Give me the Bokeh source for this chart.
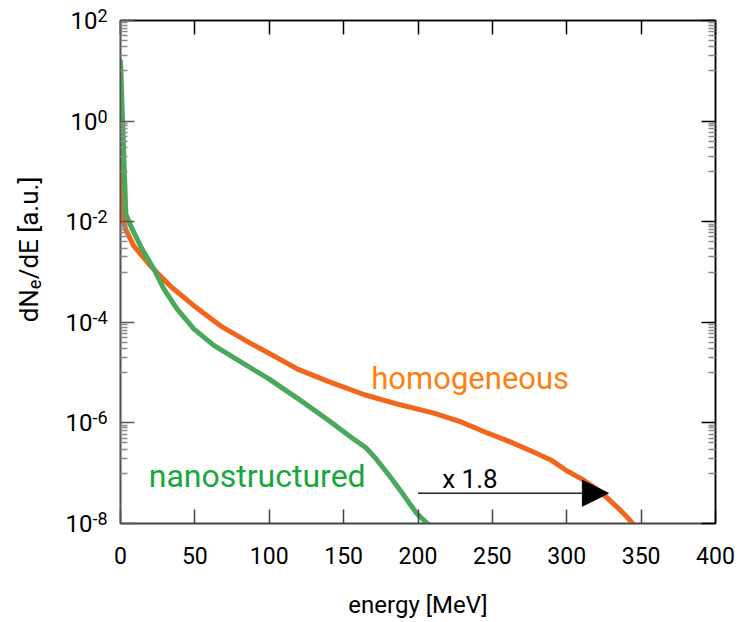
import math

from bokeh.core.properties import value
from bokeh.embed import file_html
from bokeh.models import (Arrow, FixedTicker, Label, LinearAxis, LogAxis,
                          NormalHead, Range1d)
from bokeh.plotting import figure
from bokeh.resources import INLINE

# electron spectra, dN_e/dE in arbitrary units versus energy in MeV
energy_homogeneous = [0, 1.8, 3.4, 8.9, 20.2, 33.6, 49.3, 67.2, 86.3, 105, 119,
                      140, 164, 188, 210, 228, 245, 262, 278, 290, 300, 312,
                      323, 334, 340, 345]
dnde_homogeneous = [15.1, 1.12e-2, 7.1e-3, 3.3e-3, 1.32e-3, 5.2e-4, 2.14e-4,
                    8.5e-5, 3.98e-5, 2.0e-5, 1.17e-5, 6.6e-6, 3.63e-6, 2.29e-6,
                    1.58e-6, 1.07e-6, 6.6e-7, 4.2e-7, 2.6e-7, 1.78e-7, 1.12e-7,
                    7.1e-8, 4.2e-8, 2.1e-8, 1.4e-8, 9.5e-9]

energy_nano = [0, 3.6, 7.9, 14.6, 22.4, 29.1, 38.1, 49.3, 62.7, 77.3, 100, 121,
               140, 155, 165, 172, 180, 188, 199, 207]
dnde_nano = [15.1, 1.41e-2, 7.1e-3, 2.82e-3, 1.15e-3, 4.6e-4, 1.82e-4, 7.4e-5,
             3.47e-5, 1.9e-5, 7.4e-6, 2.8e-6, 1.12e-6, 5.2e-7, 3.2e-7, 1.9e-7,
             9.5e-8, 4.6e-8, 1.6e-8, 9.5e-9]

# cut-off energies compared by the arrow
cutoff_nano = 200
cutoff_homogeneous = 328
arrow_level = 4.0e-8
gain_label = "x 1.8"

x_ticks = [0, 50, 100, 150, 200, 250, 300, 350, 400]
y_decades = [2, 0, -2, -4, -6, -8]

X_LO, X_HI = 0, 400
Y_LO, Y_HI = 1e-8, 1e2

ORANGE = "#f2661c"
ORANGE_TEXT = "#ff7f0e"
GREEN = "#4aa85c"
GREEN_TEXT = "#16a83a"
FONT = "Roboto"

p = figure(width=746, height=622, output_backend="svg", toolbar_location=None,
           x_range=Range1d(X_LO, X_HI), y_range=Range1d(Y_LO, Y_HI),
           y_axis_type="log", x_axis_location=None, y_axis_location=None,
           min_border_left=120, min_border_right=31, min_border_top=20,
           min_border_bottom=99)
p.grid.visible = False
p.outline_line_color = "black"
p.outline_line_width = 1.5
p.background_fill_color = "white"
p.border_fill_color = "white"

major_y = [10.0 ** k for k in y_decades]
minor_y = [m * 10.0 ** k for k in y_decades[1:] for m in range(10, 100, 10)]
y_ticker = FixedTicker(ticks=major_y, minor_ticks=minor_y)
x_ticker = FixedTicker(ticks=x_ticks)


def style_axis(ax, color, labelled=False):
    ax.axis_line_color = color
    ax.axis_line_width = 1.5
    ax.major_tick_in = 14
    ax.major_tick_out = 0
    ax.major_tick_line_color = color
    ax.major_tick_line_width = 1.5
    ax.minor_tick_in = 7
    ax.minor_tick_out = 0
    ax.minor_tick_line_color = "#8a8a8a"
    ax.minor_tick_line_width = 1.5
    if not labelled:
        # tick marks only; the labels are kept tiny and transparent
        ax.major_label_text_font_size = "1px"
        ax.major_label_text_alpha = 0
        ax.major_label_standoff = 0


bottom = LinearAxis(ticker=x_ticker)
style_axis(bottom, "#444444", labelled=True)
bottom.major_label_text_font = FONT
bottom.major_label_text_font_size = "23px"
bottom.major_label_text_color = "black"
bottom.major_label_standoff = 23
bottom.axis_label = "energy [MeV]"
bottom.axis_label_text_font = FONT
bottom.axis_label_text_font_size = "24px"
bottom.axis_label_text_font_style = "normal"
bottom.axis_label_text_color = "black"
bottom.axis_label_standoff = 24
p.add_layout(bottom, "below")

top = LinearAxis(ticker=x_ticker)
style_axis(top, "black")
p.add_layout(top, "above")

left = LogAxis(ticker=y_ticker)
style_axis(left, "#555555")
p.add_layout(left, "left")

right = LogAxis(ticker=y_ticker)
style_axis(right, "black")
p.add_layout(right, "right")

# spectra
p.line(energy_homogeneous, dnde_homogeneous, line_color=ORANGE, line_width=5,
       line_join="round", line_cap="round")
p.line(energy_nano, dnde_nano, line_color=GREEN, line_width=5,
       line_join="round", line_cap="round")

# y tick labels: "10" with a raised exponent, right aligned left of the frame.
# Drawn as overlay-level text so they are not clipped to the frame.
exponents = [str(k) for k in y_decades]
exp_widths = [10 * len(e.replace("-", "")) + (5 if e.startswith("-") else 0)
              for e in exponents]
label_x = [X_LO] * len(y_decades)
p.text(x=label_x, y=major_y, text=["10"] * len(y_decades),
       x_offset=[-(13 + w) for w in exp_widths], y_offset=0,
       text_align="right", text_baseline="middle", text_color="black",
       text_font=value(FONT), text_font_size=value("24px"), level="overlay")
p.text(x=label_x, y=major_y, text=exponents,
       x_offset=[-(13 + w) for w in exp_widths], y_offset=-5,
       text_align="left", text_baseline="middle", text_color="black",
       text_font=value(FONT), text_font_size=value("18px"), level="overlay")

# y axis title: dN_e/dE [a.u.], written upwards from the 1e-4 level
title_parts = ["dN", "e", "/dE [a.u.]"]
title_sizes = ["26px", "18px", "26px"]
title_dx = [-92, -86, -92]
title_dy = [0, -33, -43]
for part, size, dx, dy in zip(title_parts, title_sizes, title_dx, title_dy):
    p.text(x=[X_LO], y=[1e-4], text=[part], x_offset=dx, y_offset=dy,
           angle=math.pi / 2, text_align="left", text_baseline="middle",
           text_color="black", text_font=value(FONT),
           text_font_size=value(size), level="overlay")

# curve names
p.add_layout(Label(x=168.6, y=7.5e-6, text="homogeneous", text_align="left",
                   text_baseline="alphabetic", text_font=FONT,
                   text_font_size="31px", text_color=ORANGE_TEXT))
p.add_layout(Label(x=19.0, y=9.0e-8, text="nanostructured", text_align="left",
                   text_baseline="alphabetic", text_font=FONT,
                   text_font_size="32px", text_color=GREEN_TEXT))

# cut-off energy gain
p.add_layout(Arrow(x_start=cutoff_nano, y_start=arrow_level,
                   x_end=cutoff_homogeneous, y_end=arrow_level,
                   line_color="#222222", line_width=1.5,
                   end=NormalHead(size=26, fill_color="black", line_color="black")))
p.add_layout(Label(x=216.3, y=7.8e-8, text=gain_label, text_align="left",
                   text_baseline="alphabetic", text_font=FONT,
                   text_font_size="26px", text_color="black"))

open("out.html", "w").write(file_html(p, INLINE))
